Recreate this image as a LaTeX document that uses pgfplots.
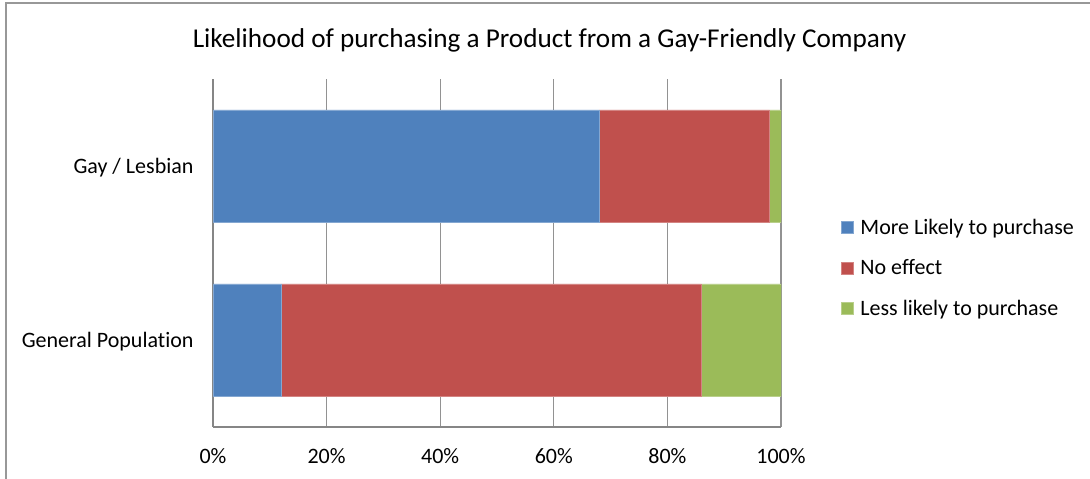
\documentclass[border=0pt]{standalone}
\usepackage{pgfplots}
\pgfplotsset{compat=1.18}
\usepackage{fontspec}
\setmainfont{Carlito}[Ligatures={NoCommon}]
\definecolor{cblue}{HTML}{4F81BD}
\definecolor{cred}{HTML}{C0504D}
\definecolor{cgreen}{HTML}{9BBB59}
\definecolor{cgrid}{HTML}{868686}
\begin{document}
\begin{tikzpicture}[x=1pt,y=1pt]
\path[use as bounding box] (0,0) rectangle (1090,479);
\draw[color=cgrid!85, line width=1.6pt] (6,0) -- (6,476) -- (1090,476);
\node[font=\fontsize{27.2}{32}\selectfont] at (549.5,439) {Likelihood of purchasing a Product from a Gay-Friendly Company};
\begin{axis}[
  at={(213pt,52pt)}, anchor=south west,
  scale only axis, width=568pt, height=348pt,
  xbar stacked, bar width=0.644,
  xmin=0, xmax=100, ymin=-0.5, ymax=1.5,
  ytick={0,1}, yticklabels={General Population, Gay / Lesbian},
  xtick={0,20,40,60,80,100},
  xticklabels={0\%,20\%,40\%,60\%,80\%,100\%},
  axis lines*=left,
  axis line style={-, draw=cgrid, line width=1.6pt},
  xmajorgrids, grid style={cgrid!90, line width=1.3pt},
  major tick length=0pt,
  tick style={draw=none},
  ticklabel style={font=\fontsize{22}{26}\selectfont},
  xticklabel style={yshift=-18pt},
  yticklabel style={xshift=-16pt, yshift=-1.5pt},
  legend style={at={(1.105,0.457)}, anchor=west, draw=none, fill=none,
    font=\fontsize{22}{26}\selectfont, row sep=20pt, column sep=5pt, inner sep=0pt,
    legend cell align=left},
  legend image code/.code={\fill[#1] (0pt,-6pt) rectangle (12pt,6pt);},
]
\addplot[fill=cblue, draw=cblue!70!white, line width=0.6pt] coordinates {(12,0) (68,1)};
\addplot[fill=cred, draw=cred!70!white, line width=0.6pt] coordinates {(74,0) (30,1)};
\addplot[fill=cgreen, draw=cgreen!70!white, line width=0.6pt] coordinates {(14,0) (2,1)};
\legend{More Likely to purchase, No effect, Less likely to purchase}
\end{axis}
\end{tikzpicture}
\end{document}
